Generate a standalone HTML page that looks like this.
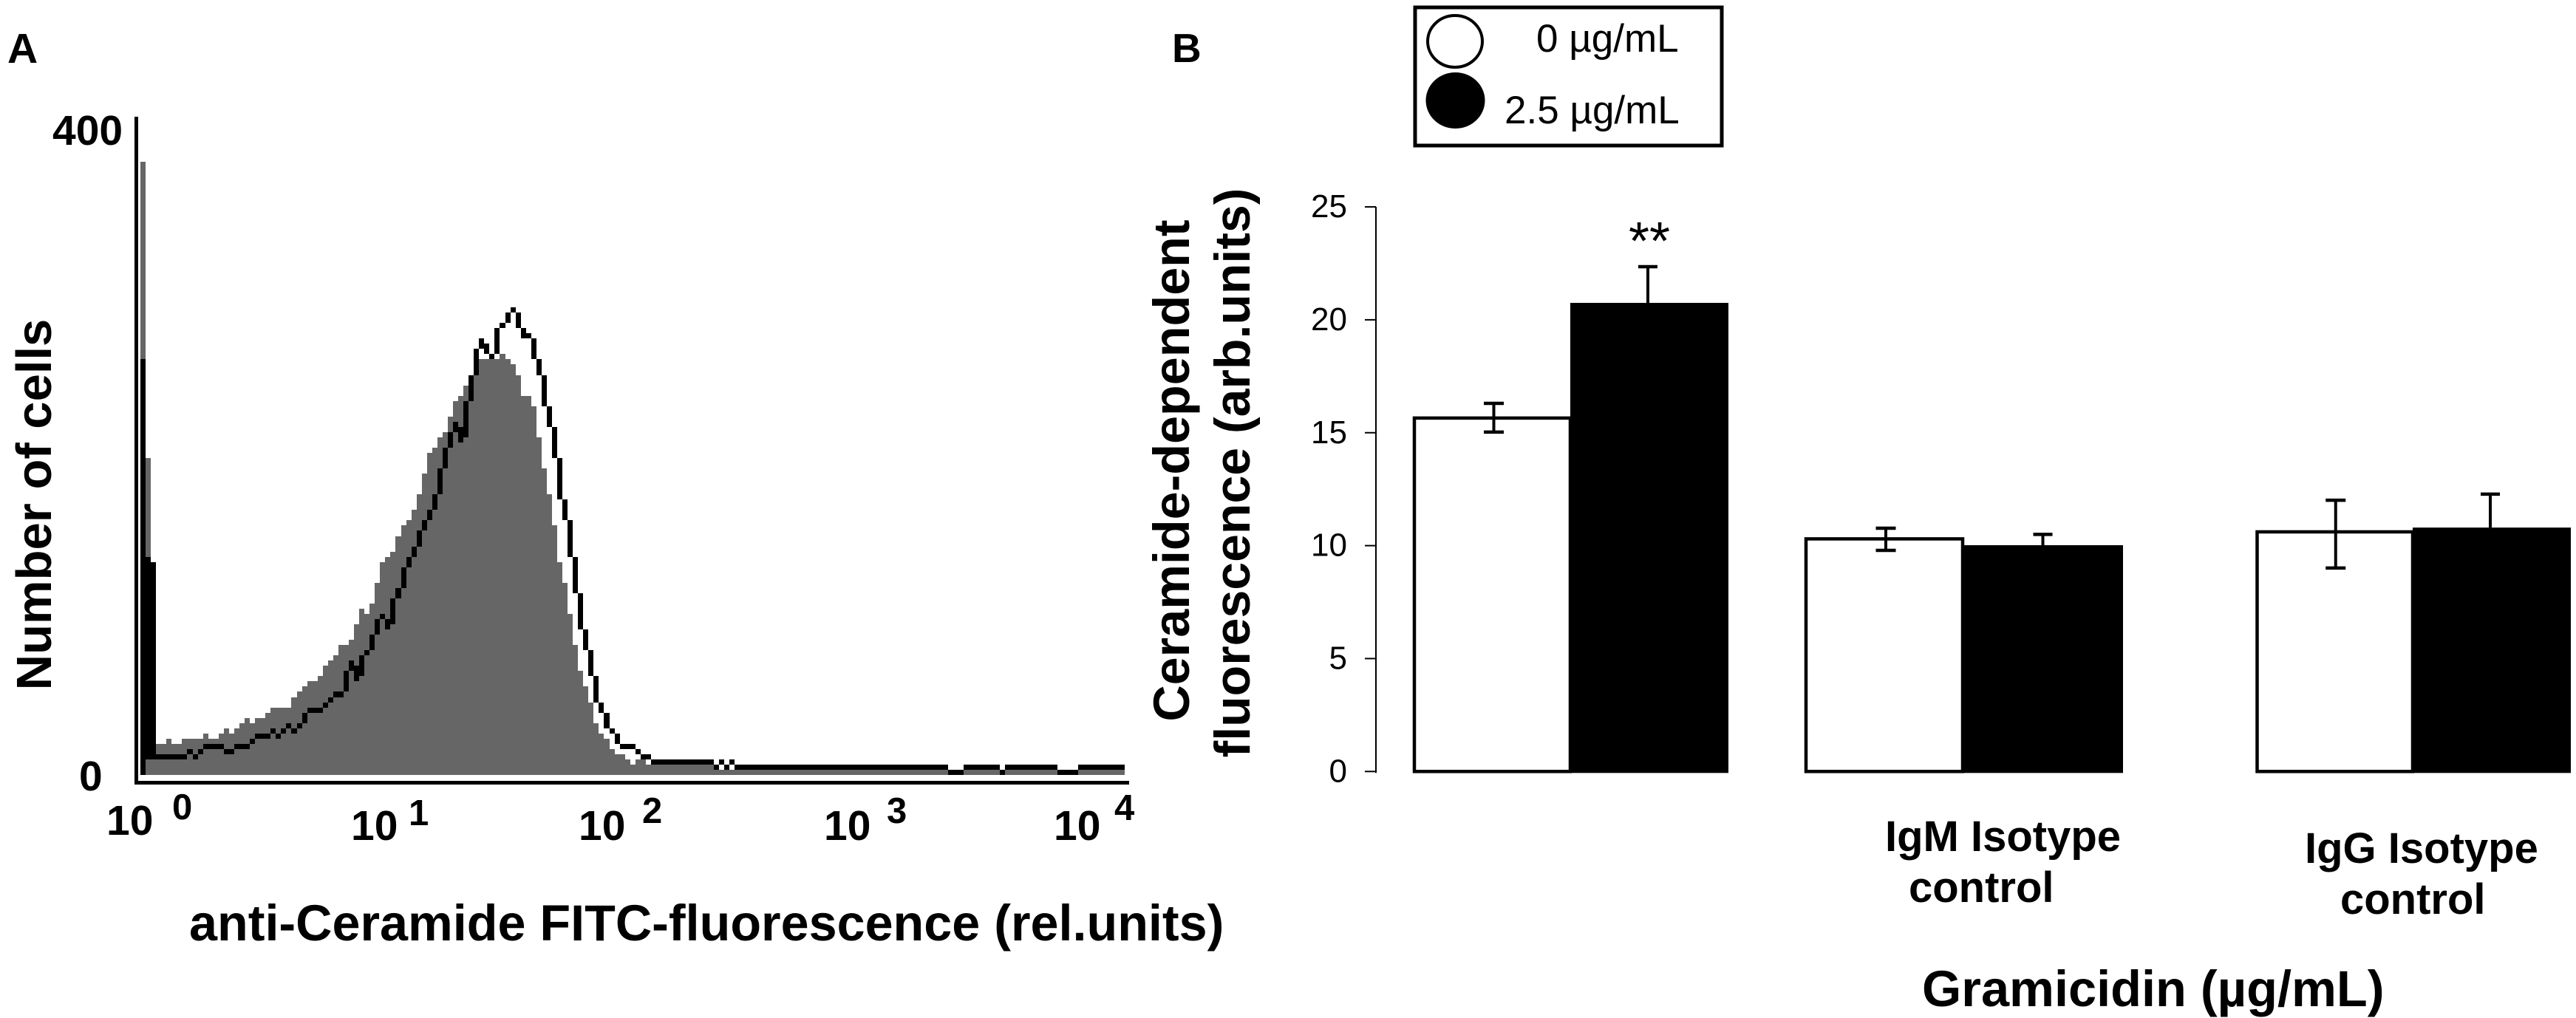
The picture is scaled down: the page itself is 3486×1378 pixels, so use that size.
<!DOCTYPE html>
<html lang="en">
<head>
<meta charset="utf-8">
<title>Ceramide flow cytometry histogram and bar chart</title>
<style>
html,body{margin:0;padding:0;background:#fff;width:3486px;height:1378px;overflow:hidden}
svg{display:block}
text{font-family:"Liberation Sans",Arial,sans-serif;fill:#000}
.b{font-weight:700}
</style>
</head>
<body>
<svg id="figure" xmlns="http://www.w3.org/2000/svg" width="3486" height="1378" viewBox="0 0 3486 1378">
  <rect x="0" y="0" width="3486" height="1378" fill="#fff"/>

  <text class="b" x="10" y="85" font-size="57">A</text>
  <g id="hist" shape-rendering="crispEdges"></g>
  <rect x="182" y="158" width="5" height="903" fill="#000"/>
  <rect x="182" y="1057" width="1346" height="5" fill="#000"/>
  <text class="b" x="71" y="196" font-size="57">400</text>
  <text class="b" x="107" y="1070" font-size="57">0</text>
  <text class="b" font-size="67" text-anchor="middle" transform="translate(69,683) rotate(-90)">Number of cells</text>

  <g><text class="b" x="144" y="1130" font-size="57">10</text><text class="b" x="233" y="1109" font-size="49">0</text></g>
  <g><text class="b" x="475" y="1137" font-size="57">10</text><text class="b" x="553" y="1117" font-size="49">1</text></g>
  <g><text class="b" x="783" y="1137" font-size="57">10</text><text class="b" x="869" y="1114" font-size="49">2</text></g>
  <g><text class="b" x="1115" y="1137" font-size="57">10</text><text class="b" x="1200" y="1114" font-size="49">3</text></g>
  <g><text class="b" x="1426" y="1137" font-size="57">10</text><text class="b" x="1508" y="1110" font-size="49">4</text></g>
  <text class="b" x="256" y="1273" font-size="68.3">anti-Ceramide FITC-fluorescence (rel.units)</text>

  <text class="b" x="1586" y="84" font-size="55">B</text>
  <g>
    <rect x="1915" y="10" width="415" height="187" fill="#fff" stroke="#000" stroke-width="5"/>
    <ellipse cx="1969" cy="56" rx="37" ry="35" fill="#fff" stroke="#000" stroke-width="4"/>
    <ellipse cx="1969.5" cy="136" rx="40" ry="38" fill="#000"/>
    <text x="2079" y="70" font-size="53">0 µg/mL</text>
    <text x="2036" y="167" font-size="53">2.5 µg/mL</text>
  </g>
  <g id="bars"></g>
  <text x="2232" y="351" font-size="72" text-anchor="middle">**</text>
  <text class="b" font-size="68.3" text-anchor="middle" transform="translate(1609,637) rotate(-90)">Ceramide-dependent</text>
  <text class="b" font-size="68" text-anchor="middle" transform="translate(1691,640) rotate(-90)">fluorescence (arb.units)</text>
  <g><text class="b" x="2551" y="1152" font-size="58">IgM Isotype</text><text class="b" x="2583" y="1221" font-size="58">control</text></g>
  <g><text class="b" x="3119" y="1168" font-size="58">IgG Isotype</text><text class="b" x="3167" y="1237" font-size="58">control</text></g>
  <text class="b" x="2601" y="1362" font-size="68.5">Gramicidin (µg/mL)</text>
</svg>
<script>
// Panel A: histogram heights per channel, in display levels (one level = COUNTS_PER_LEVEL cells)
const grayLevels = [118,61,
5,6,6,7,6,6,7,7,7,7,8,7,7,8,9,8,9,10,11,10,11,11,12,13,13,13,13,
15,16,17,18,18,19,21,22,23,25,25,26,29,32,31,33,37,41,42,43,46,48,49,51,54,58,62,63,65,66,69,72,73,75,77,79,
80,80,80,80,81,80,79,77,73,73,71,65,59,54,48,41,37,31,25,20,17,
14,10,8,7,5,4,4,3,2,3,3,2,
2,2,2,2,2,2,2,2,2,2,2,2,
1,1,1,1,1,1,1,1,1,1,1,1,1,1,1,1,1,1,1,1,1,1,1,1,1,1,1,1,1,1,1,1,1,1,1,1,1,1,1,1,
1,1,1,1,1,1,1,1,1,1,1,1,1,1,1,1,1,1,1,1,1,1,1,1,1,1,1,1,1,1,1,1,1,1,1,1,1,1,1];
const blackLevels = [79,41,
3,3,3,3,3,3,3,4,3,4,5,5,5,5,4,4,5,5,5,6,7,7,7,8,7,8,9,8,9,
11,12,12,12,13,14,15,15,19,21,18,22,23,26,29,30,28,
33,35,39,41,43,46,48,50,53,58,62,65,67,64,71,76,81,83,81,80,85,86,88,89,86,84,84,
80,77,71,67,61,53,49,42,35,28,24,19,
14,12,9,8,6,5,5,5,4,3,3,
2,2,2,2,2,2,2,2,2,2,2,2,1,2,1,2,
1,1,1,1,1,1,1,1,1,1,1,1,1,1,1,1,1,1,1,1,1,1,1,1,1,1,1,1,1,1,1,1,1,1,1,1,1,1,1,1,1,
0,0,0,1,1,1,1,1,1,1,0,1,1,1,1,1,1,1,1,1,1,0,0,0,0,1,1,1,1,1,1,1,1,1];
const COUNTS_PER_LEVEL = 3.157;

// Panel B: bar chart data
const barGroups = ['Gramicidin','IgM Isotype control','IgG Isotype control'];
const barTicks = [0,5,10,15,20,25];
const whiteMeans = [15.65,10.3,10.61];
const blackMeans = [20.75,10.02,10.8];
const whiteErrHigh = [16.3,10.77,12.01];
const whiteErrLow = [15.03,9.79,9.01];
const blackErrHigh = [22.35,10.5,12.28];

const NS = 'http://www.w3.org/2000/svg';
function mk(tag, parent){ const e = document.createElementNS(NS, tag); parent.appendChild(e); return e; }

// Histogram axis functions
const histX = ch => Math.round(190 + 7.05 * ch);
const histY = count => Math.round(1049 - count * 891 / 400);
const lvlY = lvl => histY(lvl * COUNTS_PER_LEVEL);

const hist = document.getElementById('hist');
grayLevels.forEach((lvl, i) => {
  const r = mk('rect', hist);
  
  
  r.setAttribute('x', histX(i));
  r.setAttribute('width', histX(i + 1) - histX(i));
  r.setAttribute('y', lvlY(lvl));
  r.setAttribute('height', 1049 - lvlY(lvl));
  r.setAttribute('fill', '#666');
});
blackLevels.forEach((lvl, i) => {
  // Column holds a 1-level cell at row "lvl", joined vertically to the previous column's row
  let lo = lvl, hi = lvl;
  if (i === 0) { lo = 0; }
  else if (i === 1) { lo = blackLevels[2]; }
  else {
    const prev = blackLevels[i - 1];
    if (prev < lvl) { lo = prev + 1; hi = lvl; }
    else if (prev > lvl) { lo = lvl; hi = prev - 1; }
  }
  const top = lvlY(hi + 1), bottom = lvlY(lo);
  const r = mk('rect', hist);
  
  
  r.setAttribute('x', histX(i));
  r.setAttribute('width', histX(i + 1) - histX(i));
  r.setAttribute('y', top);
  r.setAttribute('height', bottom - top);
  r.setAttribute('fill', '#000');
});

// Bar chart axis functions and group layout
const barY = v => 1044.3 - v * 30.57;
const groupLeft = [1914, 2444, 3054.5];
const groupMid = [2125, 2656, 3265];
const groupRight = [2339, 2873, 3479];
const whiteErrOffset = [2, 2, 1];
const blackErrOffset = [-2, 0, -2];
const groupCount = barGroups.length;
const bars = document.getElementById('bars');

const axisLine = mk('line', bars);


axisLine.setAttribute('x1', 1862);
axisLine.setAttribute('x2', 1862);
axisLine.setAttribute('y1', barY(25));
axisLine.setAttribute('y2', barY(0) + 2);
axisLine.setAttribute('stroke', '#000');
axisLine.setAttribute('stroke-width', 2);

barTicks.forEach(t => {
  const l = mk('line', bars);
  
  
  l.setAttribute('x1', 1847);
  l.setAttribute('x2', 1862);
  l.setAttribute('y1', barY(t));
  l.setAttribute('y2', barY(t));
  l.setAttribute('stroke', '#000');
  l.setAttribute('stroke-width', 2);
  const s = mk('text', bars);
  
  
  s.setAttribute('x', 1823);
  s.setAttribute('y', barY(t) + 14);
  s.setAttribute('font-size', 44);
  s.setAttribute('text-anchor', 'end');
  s.textContent = t;
});

function errorBar(parent, cx, hiVal, loVal, capW, name){
  const v = mk('line', parent);
  
  
  v.setAttribute('x1', cx);
  v.setAttribute('x2', cx);
  v.setAttribute('y1', barY(hiVal));
  v.setAttribute('y2', barY(loVal));
  v.setAttribute('stroke', '#000');
  v.setAttribute('stroke-width', 4);
  const c1 = mk('line', parent);
  
  
  c1.setAttribute('x1', cx - capW / 2);
  c1.setAttribute('x2', cx + capW / 2);
  c1.setAttribute('y1', barY(hiVal));
  c1.setAttribute('y2', barY(hiVal));
  c1.setAttribute('stroke', '#000');
  c1.setAttribute('stroke-width', 4.5);
  return v;
}

for (let g = 0; g < groupCount; g++) {
  const w = mk('rect', bars);
  
  
  w.setAttribute('x', groupLeft[g]);
  w.setAttribute('y', barY(whiteMeans[g]));
  w.setAttribute('width', groupMid[g] - groupLeft[g]);
  w.setAttribute('height', barY(0) - barY(whiteMeans[g]));
  w.setAttribute('fill', '#fff');
  w.setAttribute('stroke', '#000');
  w.setAttribute('stroke-width', 4.5);

  const k = mk('rect', bars);
  
  
  k.setAttribute('x', groupMid[g]);
  k.setAttribute('y', barY(blackMeans[g]));
  k.setAttribute('width', groupRight[g] - groupMid[g]);
  k.setAttribute('height', barY(0) + 2 - barY(blackMeans[g]));
  k.setAttribute('fill', '#000');

  const wc = (groupLeft[g] + groupMid[g]) / 2 + whiteErrOffset[g];
  errorBar(bars, wc, whiteErrHigh[g], whiteErrLow[g], 27, 'error-bar-0-ug');
  const lc = mk('line', bars);
  
  
  lc.setAttribute('x1', wc - 13.5);
  lc.setAttribute('x2', wc + 13.5);
  lc.setAttribute('y1', barY(whiteErrLow[g]));
  lc.setAttribute('y2', barY(whiteErrLow[g]));
  lc.setAttribute('stroke', '#000');
  lc.setAttribute('stroke-width', 4.5);

  const bc = (groupMid[g] + groupRight[g]) / 2 + blackErrOffset[g];
  errorBar(bars, bc, blackErrHigh[g], blackMeans[g], 26, 'error-bar-2-5-ug');
}
</script>
</body>
</html>
